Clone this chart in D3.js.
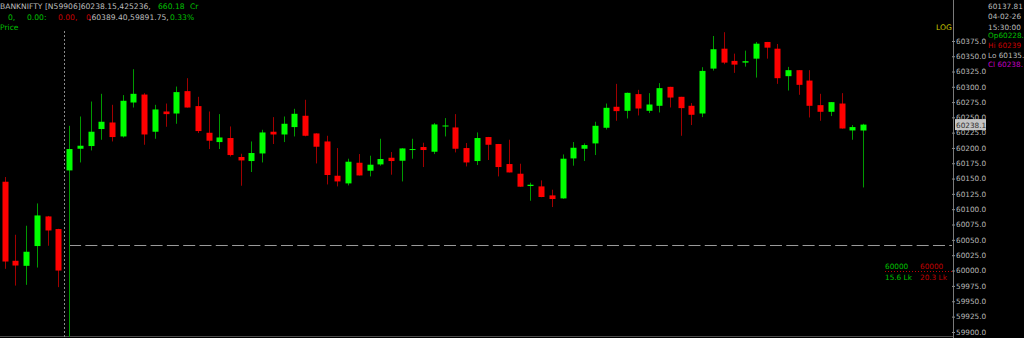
<!DOCTYPE html>
<html><head><meta charset="utf-8">
<script src="https://cdn.jsdelivr.net/npm/d3@7/dist/d3.min.js"></script>
<style>
html,body{margin:0;padding:0;background:#000;overflow:hidden}
svg{display:block}
text{font-family:"DejaVu Sans",sans-serif}
</style></head><body>
<svg id="c" width="1024" height="338"></svg>
<script>
// 5-minute candles: last 6 of 03-02-26, then 04-02-26 session
const times = [
 "03-02 15:00","03-02 15:05","03-02 15:10","03-02 15:15","03-02 15:20","03-02 15:25",
 "09:15","09:20","09:25","09:30","09:35","09:40","09:45","09:50","09:55","10:00",
 "10:05","10:10","10:15","10:20","10:25","10:30","10:35","10:40","10:45","10:50",
 "10:55","11:00","11:05","11:10","11:15","11:20","11:25","11:30","11:35","11:40",
 "11:45","11:50","11:55","12:00","12:05","12:10","12:15","12:20","12:25","12:30",
 "12:35","12:40","12:45","12:50","12:55","13:00","13:05","13:10","13:15","13:20",
 "13:25","13:30","13:35","13:40","13:45","13:50","13:55","14:00","14:05","14:10",
 "14:15","14:20","14:25","14:30","14:35","14:40","14:45","14:50","14:55","15:00",
 "15:05","15:10","15:15","15:20","15:25"
];
const open = [60144.8,60015.9,60007.7,60039.9,60088.2,60067.6,
 60163.3,60198.7,60203.1,60230.9,60241.6,60218.8,60274.3,60287.3,60226.5,60259.6,
 60256.3,60292.9,60268.4,60224.8,60209.6,60216.2,60185.2,60178.6,60191.0,60226.5,
 60222.0,60234.1,60252.6,60223.7,60210.6,60154.6,60142.1,60175.8,60162.8,60173.1,
 60184.0,60179.1,60196.6,60201.5,60193.8,60235.1,60233.5,60199.8,60178.6,60217.8,
 60206.4,60173.7,60157.9,60137.8,60137.2,60122.5,60117.6,60182.9,60198.7,60207.4,
 60233.0,60267.3,60260.7,60288.0,60260.7,60268.9,60299.9,60283.6,60268.9,60256.3,
 60329.8,60362.4,60342.4,60339.6,60346.1,60373.4,60362.4,60317.4,60327.2,60310.2,
 60270.0,60259.1,60272.6,60228.6,60228.5];
const high = [60152.5,60058.3,60073.0,60109.4,60089.0,60068.0,
 60236.2,60251.4,60275.9,60288.5,60270.5,60286.4,60328.8,60289.6,60270.5,60272.6,
 60300.4,60314.1,60283.6,60259.6,60255.3,60235.1,60190.5,60210.6,60229.7,60250.4,
 60251.4,60264.0,60278.7,60224.0,60219.9,60199.8,60182.4,60190.0,60187.3,60215.0,
 60193.3,60199.5,60215.0,60208.5,60240.7,60248.8,60255.3,60208.0,60225.3,60218.0,
 60206.5,60213.4,60174.2,60143.2,60147.0,60131.8,60189.4,60209.6,60207.4,60242.8,
 60272.6,60304.8,60290.5,60295.0,60289.6,60306.0,60300.0,60283.6,60273.3,60332.1,
 60383.2,60389.4,60354.3,60359.2,60373.4,60373.5,60370.1,60332.6,60327.3,60327.2,
 60288.5,60275.0,60289.6,60237.4,60239.5];
const low = [60002.8,59975.5,59976.7,60004.9,60040.4,59973.0,
 59891.75,60176.3,60195.9,60213.4,60210.6,60217.0,60266.1,60205.2,60215.0,60234.6,
 60239.5,60266.0,60224.3,60198.2,60198.2,60186.1,60138.3,60160.7,60176.3,60206.4,
 60209.6,60218.8,60219.0,60174.7,60140.4,60137.2,60138.8,60155.0,60153.5,60171.0,
 60156.3,60145.3,60182.4,60168.8,60190.0,60218.8,60192.7,60169.8,60172.1,60180.3,
 60153.5,60160.0,60136.5,60113.8,60119.5,60103.5,60117.0,60171.0,60178.6,60188.4,
 60230.2,60244.4,60248.2,60253.1,60257.0,60258.0,60266.1,60219.9,60237.4,60250.4,
 60326.5,60337.0,60322.8,60333.0,60315.1,60346.1,60304.8,60293.9,60286.9,60249.8,
 60244.4,60252.1,60231.5,60213.4,60135.5];
const close = [60014.7,60008.2,60030.6,60089.8,60065.3,60000.0,
 60198.2,60203.6,60226.5,60242.8,60217.8,60277.1,60288.5,60222.0,60262.9,60255.3,
 60291.3,60266.1,60227.6,60211.8,60217.1,60188.4,60179.6,60191.7,60225.3,60222.0,
 60239.5,60255.8,60219.9,60202.0,60155.8,60145.3,60177.5,60155.1,60172.6,60181.9,
 60178.6,60199.2,60198.2,60196.6,60238.4,60236.7,60198.7,60176.3,60216.2,60205.2,
 60168.8,60160.0,60136.7,60139.9,60119.9,60116.6,60182.4,60200.3,60204.7,60236.2,
 60265.6,60260.2,60290.1,60264.5,60271.0,60297.8,60282.4,60265.1,60254.2,60326.0,
 60361.5,60339.6,60336.3,60341.9,60370.6,60364.1,60314.1,60327.2,60303.2,60268.9,
 60259.1,60274.9,60231.8,60234.1,60238.15];
const yTicks = [59900,59925,59950,59975,60000,60025,60050,60075,60100,60125,60150,60175,
 60200,60225,60250,60275,60300,60325,60350,60375];
const prevClose = 60042;
const lastPrice = 60238.15;
const depthPrice = 60000;

const svg = d3.select("#c");
svg.append("rect").attr("width",1024).attr("height",338).attr("fill","#000");

const x = d3.scalePoint().domain(times).range([4.7, 863.1]);
const y = d3.scaleLog().domain([59900, 60375]).range([332, 41]);

const data = times.map((t,i)=>({t, o:open[i], h:high[i], l:low[i], c:close[i]}));

// bottom border
svg.append("line").attr("x1",0).attr("x2",953).attr("y1",336.5).attr("y2",336.5)
  .attr("stroke","#4a4a4a").attr("stroke-width",1);

// previous close dashed line
svg.append("line").attr("x1",x(times[6])).attr("x2",952)
  .attr("y1",Math.round(y(prevClose))+0.5).attr("y2",Math.round(y(prevClose))+0.5)
  .attr("stroke","#9a9a9a").attr("stroke-width",1.2).attr("stroke-dasharray","12,4.3");

// day separator
const sepX = Math.round((x(times[5])+x(times[6]))/2)+0.5;
svg.append("line").attr("x1",sepX).attr("x2",sepX).attr("y1",31).attr("y2",338)
  .attr("stroke","#8a8a8a").attr("stroke-width",1).attr("stroke-dasharray","2,2");

// candles
const g = svg.append("g");
const cd = g.selectAll("g.c").data(data).join("g").attr("class","c");
cd.append("line")
  .attr("x1",d=>Math.round(x(d.t))+0.5).attr("x2",d=>Math.round(x(d.t))+0.5)
  .attr("y1",d=>y(d.h)).attr("y2",d=>y(d.l))
  .attr("stroke",d=>d.c>=d.o?"#009a00":"#a00000").attr("stroke-width",1);
cd.append("rect")
  .attr("x",d=>Math.round(x(d.t))-2.5).attr("width",6)
  .attr("y",d=>y(Math.max(d.o,d.c)))
  .attr("height",d=>Math.max(1,y(Math.min(d.o,d.c))-y(Math.max(d.o,d.c))))
  .attr("fill",d=>d.c>=d.o?"#00ff00":"#ff0000");

const FS = 7.3;
// depth marker at 60000
const yd = Math.round(y(depthPrice))+0.5;
svg.append("line").attr("x1",885).attr("x2",953).attr("y1",yd).attr("y2",yd)
  .attr("stroke","#c00000").attr("stroke-width",1).attr("stroke-dasharray","1,2");
svg.append("text").attr("x",885).attr("y",yd-3).attr("font-size",FS).attr("fill","#00c000").text("60000");
svg.append("text").attr("x",920).attr("y",yd-3).attr("font-size",FS).attr("fill","#c00000").text("60000");
svg.append("text").attr("x",885).attr("y",yd+8).attr("font-size",FS).attr("fill","#00c000").text("15.6 Lk");
svg.append("text").attr("x",920).attr("y",yd+8).attr("font-size",FS).attr("fill","#c00000").text("20.3 Lk");

// axis
svg.append("line").attr("x1",953.5).attr("x2",953.5).attr("y1",0).attr("y2",338)
  .attr("stroke","#7a7a7a").attr("stroke-width",1);
const ax = svg.append("g").attr("transform","translate(952,0)")
  .call(d3.axisRight(y).tickValues(yTicks).tickFormat(d3.format(".1f")).tickSize(3).tickPadding(1));
ax.select(".domain").remove();
ax.selectAll(".tick line").attr("stroke","#8a8a8a");
ax.selectAll(".tick text").attr("fill","#b8b8b8").attr("font-size",FS)
  .attr("font-family","'DejaVu Sans',sans-serif");

// last price box
const yl = y(lastPrice);
svg.append("rect").attr("x",955).attr("y",yl-5.5).attr("width",31).attr("height",11).attr("fill","#c4c4c4");
svg.append("text").attr("x",956).attr("y",yl+3).attr("font-size",FS).attr("fill","#303030")
  .text((Math.floor(lastPrice*10)/10).toFixed(1));

// header
function seg(xp, yp, txt, col){
  svg.append("text").attr("x",xp).attr("y",yp).attr("font-size",7.6).attr("fill",col).text(txt);
}
const GR="#bdbdbd", GN="#00c000", RD="#c80000";
seg(0,8.5,"BANKNIFTY [N59906]60238.15,425236,",GR);
seg(158,8.5,"660.18",GN);
seg(190,8.5,"Cr",GN);
seg(8,19.5,"0,",GN);
seg(27,19.5,"0.00:",GN);
seg(58,19.5,"0.00,",RD);
seg(86,19.5,"0",RD);
seg(89,19.5,",60389.40,59891.75,",GR);
seg(170,19.5,"0.33%",GN);
seg(0,29.5,"Price",GN);

// LOG
svg.append("text").attr("x",936).attr("y",29.5).attr("font-size",7.6).attr("fill","#c8c800").text("LOG");

// top-right info
function info(yp, txt, col){
  svg.append("text").attr("x",988).attr("y",yp).attr("font-size",FS).attr("fill",col).text(txt);
}
info(9,"60137.81",GR);
info(19,"04-02-26",GR);
info(29.5,"15:30:00",GR);
info(37.7,"Op60228.",GN);
info(47.7,"Hi 60239",RD);
info(57.7,"Lo 60135.",GR);
info(66.5,"Cl 60238.","#c000c0");
</script></body></html>
